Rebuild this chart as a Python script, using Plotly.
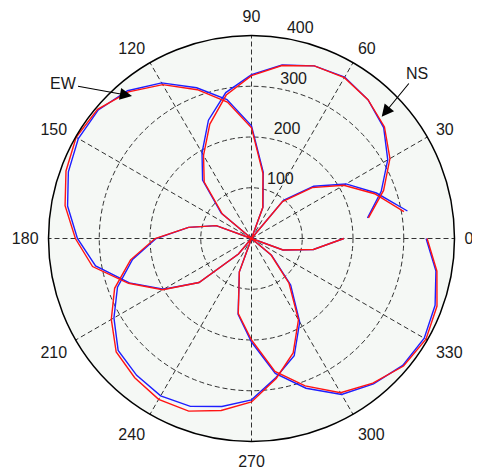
import plotly.graph_objects as go

# azimuth samples (degrees)
theta = [10, 20, 30, 40, 50, 60, 70, 80, 90, 100, 110, 120, 130, 140, 150, 160, 170, 180,
         190, 200, 210, 220, 230, 240, 250, 260, 270, 280, 290, 300, 310, 320, 330, 340, 350, 360]

# EW pattern (red / blue)
ew_red = [305, 258, 210, 156, 95, 0, 65, 130, 218, 273, 312, 350, 377, 396, 399, 389, 373, 347,
          318, 258, 202, 135, 40, 0, 70, 150, 200, 266, 309, 351, 372, 391, 397, 389, 371, 346]
ew_blue = [312, 262, 215, 160, 98, 0, 66, 133, 222, 278, 316, 354, 380, 394, 394, 384, 368, 343,
           312, 256, 200, 135, 40, 0, 70, 152, 204, 270, 314, 355, 374, 389, 393, 385, 369, 344]

# NS pattern (red / blue)
ns_red = [234, 277, 315, 342, 357, 366, 362, 346, 321, 287, 240, 189, 145, 75, 0, 74, 126, 190,
          242, 287, 319, 348, 358, 366, 362, 344, 322, 280, 240, 185, 115, 50, 0, 66, 124, 182]
ns_blue = [232, 272, 310, 340, 357, 367, 362, 347, 323, 292, 248, 195, 150, 78, 0, 74, 126, 188,
           238, 281, 313, 343, 352, 358, 352, 336, 318, 278, 246, 190, 120, 52, 0, 66, 124, 182]

angle_ticks = [0, 30, 60, 90, 120, 150, 180, 210, 240, 270, 300, 330]
radial_ticks = [100, 200, 300, 400]
radial_label_angle = 82.5

W, H = 480, 471
OFF = 8  # page body margin
cx, cy, R = 251.5 - OFF, 238.5 - OFF, 203.0

fig = go.Figure()
BLUE = "rgb(30,30,255)"
RED = "rgb(255,20,20)"
fig.add_trace(go.Scatterpolar(r=ew_blue, theta=theta, mode="lines",
                              line=dict(color=BLUE, width=1.4), showlegend=False))
fig.add_trace(go.Scatterpolar(r=ns_blue, theta=theta, mode="lines",
                              line=dict(color=BLUE, width=1.4), showlegend=False))
fig.add_trace(go.Scatterpolar(r=ew_red, theta=theta, mode="lines",
                              line=dict(color=RED, width=1.4), showlegend=False))
fig.add_trace(go.Scatterpolar(r=ns_red, theta=theta, mode="lines",
                              line=dict(color=RED, width=1.4), showlegend=False))

FONT = dict(family="Liberation Sans, Arial, sans-serif", size=16, color="#1a1a1a")

# radial tick labels (MATLAB style, horizontal, beside the 82.5 deg ray)
fig.add_trace(go.Scatterpolar(r=radial_ticks, theta=[radial_label_angle] * len(radial_ticks),
                              mode="text", text=["\u00a0\u00a0" + str(v) for v in radial_ticks],
                              textposition="top right", textfont=FONT,
                              showlegend=False, hoverinfo="skip", cliponaxis=False))

fig.update_layout(
    width=W, height=H,
    margin=dict(l=0, r=0, t=0, b=0),
    paper_bgcolor="white",
    font=FONT,
    polar=dict(
        domain=dict(x=[(cx - R) / W, (cx + R) / W], y=[1 - (cy + R) / H, 1 - (cy - R) / H]),
        bgcolor="rgb(245,248,245)",
        radialaxis=dict(range=[0, 400], tickvals=radial_ticks, showticklabels=False,
                        showline=False, ticks="", angle=80,
                        gridcolor="rgb(50,50,50)", gridwidth=1.1, griddash="5px,3px"),
        angularaxis=dict(rotation=0, direction="counterclockwise",
                         tickvals=angle_ticks, ticktext=[str(v) for v in angle_ticks],
                         showline=True, linecolor="black", linewidth=1.5,
                         ticks="outside", ticklen=6, tickcolor="rgba(0,0,0,0)",
                         gridcolor="rgb(50,50,50)", gridwidth=1.1, griddash="5px,3px",
                         tickfont=FONT),
    ),
)

def to_paper(px, py):
    return (px - OFF) / W, 1 - (py - OFF) / H

# EW arrow
tx, ty = to_paper(132, 96)
fig.add_annotation(x=tx, y=ty, xref="paper", yref="paper", text="EW", showarrow=True,
                   ax=63 - 132, ay=83.5 - 96, arrowhead=2, arrowsize=2.2, arrowwidth=1.1,
                   arrowcolor="black", font=FONT)
# NS arrow
tx, ty = to_paper(381.7, 116.7)
fig.add_annotation(x=tx, y=ty, xref="paper", yref="paper", text="NS", showarrow=True,
                   ax=417 - 381.7, ay=73.5 - 116.7, arrowhead=2, arrowsize=2.2, arrowwidth=1.1,
                   arrowcolor="black", font=FONT)

fig.write_html("out.html")
